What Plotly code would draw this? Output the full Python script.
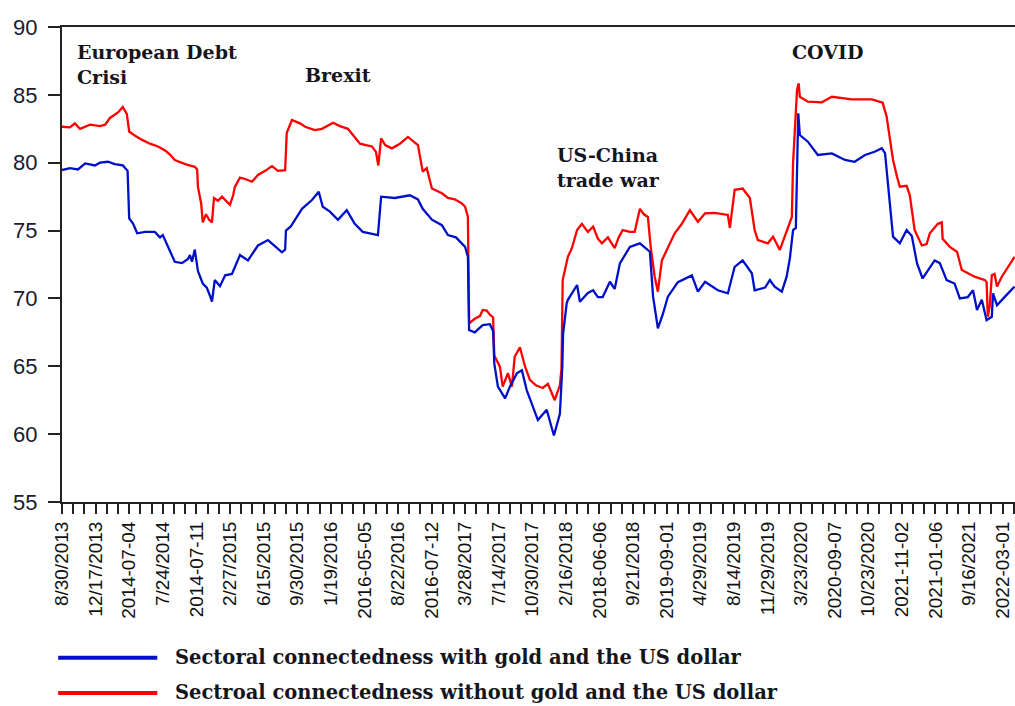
import plotly.graph_objects as go

# Observation index (trading days from 8/30/2013) and index readings
obs_red = [0, 20, 32, 45, 70, 95, 108, 120, 140, 152, 162, 168, 182, 199, 220, 240, 258, 270, 282, 308,
           332, 338, 340, 348, 352, 360, 368, 375, 380, 390, 400, 410, 420, 428, 432, 445, 458, 475, 490, 508,
           525, 540, 558, 562, 575, 595, 608, 632, 650, 678, 695, 715, 732, 745, 760, 775, 785, 791, 798, 808,
           825, 845, 865, 878, 890, 902, 912, 925, 950, 965, 982, 1000, 1008, 1015, 1018, 1032, 1045, 1052, 1062, 1070,
           1078, 1081, 1095, 1102, 1115, 1125, 1132, 1145, 1158, 1170, 1185, 1202, 1215, 1232, 1245, 1249, 1252, 1265, 1275, 1288,
           1300, 1315, 1328, 1340, 1350, 1365, 1382, 1392, 1402, 1420, 1432, 1445, 1455, 1465, 1472, 1482, 1490, 1500, 1515, 1532,
           1550, 1570, 1590, 1608, 1632, 1650, 1665, 1670, 1682, 1702, 1720, 1732, 1740, 1765, 1778, 1795, 1812, 1825, 1828, 1838,
           1842, 1845, 1865, 1900, 1925, 1975, 2025, 2052, 2062, 2070, 2078, 2088, 2095, 2112, 2120, 2132, 2150, 2162, 2170, 2190,
           2200, 2202, 2220, 2238, 2250, 2282, 2308, 2312, 2315, 2320, 2325, 2332, 2338, 2350, 2365, 2382]
without_gold_usd = [82.65, 82.6, 82.9, 82.5, 82.8, 82.7, 82.8, 83.3, 83.7, 84.1, 83.6, 82.3, 82.0, 81.7, 81.4, 81.2, 80.9, 80.6, 80.2, 79.9,
                    79.7, 79.5, 78.2, 77.0, 75.6, 76.2, 75.8, 75.6, 77.4, 77.2, 77.5, 77.2, 76.9, 77.6, 78.2, 78.9, 78.8, 78.6, 79.1, 79.4,
                    79.75, 79.4, 79.45, 82.2, 83.15, 82.9, 82.65, 82.4, 82.5, 82.95, 82.7, 82.5, 81.9, 81.4, 81.3, 81.2, 80.8, 79.8, 81.8, 81.3,
                    81.06, 81.4, 81.9, 81.6, 81.3, 79.34, 79.6, 78.1, 77.75, 77.4, 77.3, 77.0, 76.75, 76.0, 68.16, 68.5, 68.7, 69.15, 69.1, 68.8,
                    68.6, 65.8, 64.97, 63.5, 64.5, 63.5, 65.7, 66.4, 64.97, 64.0, 63.6, 63.4, 63.7, 62.5, 63.6, 64.85, 71.35, 73.07, 73.7, 75.04,
                    75.5, 74.9, 75.3, 74.4, 74.06, 74.5, 73.7, 74.5, 75.04, 74.9, 74.9, 76.6, 76.2, 76.0, 73.8, 71.6, 70.5, 72.8, 73.8, 74.8,
                    75.5, 76.5, 75.65, 76.27, 76.3, 76.2, 76.15, 75.2, 78.0, 78.1, 77.4, 75.04, 74.3, 74.06, 74.55, 73.57, 75.04, 76.0, 79.95, 85.36,
                    85.85, 84.86, 84.5, 84.45, 84.86, 84.67, 84.67, 84.42, 83.4, 81.9, 80.2, 78.97, 78.23, 78.3, 77.6, 75.04, 73.9, 74.0, 74.8, 75.5,
                    75.6, 74.4, 73.8, 73.44, 72.1, 71.6, 71.35, 71.2, 68.65, 69.5, 71.7, 71.8, 70.87, 71.6, 72.33, 73.07]

obs_blue = [0, 20, 40, 58, 82, 95, 115, 132, 152, 164, 168, 178, 188, 208, 232, 245, 252, 265, 282, 300,
            315, 320, 325, 332, 340, 352, 362, 370, 375, 382, 395, 408, 425, 445, 465, 490, 515, 538, 550, 558,
            560, 572, 582, 600, 625, 642, 652, 670, 690, 712, 732, 752, 770, 790, 798, 832, 870, 890, 902, 925,
            950, 965, 985, 1008, 1015, 1018, 1032, 1052, 1070, 1078, 1081, 1090, 1108, 1120, 1138, 1150, 1162, 1175, 1190, 1212,
            1230, 1245, 1251, 1253, 1262, 1265, 1275, 1288, 1295, 1315, 1328, 1340, 1352, 1370, 1382, 1395, 1420, 1445, 1470, 1478,
            1490, 1502, 1515, 1540, 1575, 1590, 1608, 1640, 1665, 1682, 1702, 1725, 1732, 1758, 1770, 1782, 1800, 1812, 1820, 1828,
            1835, 1838, 1841, 1845, 1865, 1890, 1925, 1958, 1982, 2008, 2032, 2050, 2058, 2070, 2078, 2095, 2112, 2125, 2138, 2152,
            2170, 2182, 2195, 2212, 2232, 2245, 2265, 2278, 2288, 2300, 2312, 2325, 2328, 2338, 2358, 2382]
with_gold_usd = [79.46, 79.6, 79.5, 79.95, 79.8, 80.0, 80.07, 79.9, 79.8, 79.4, 75.9, 75.5, 74.8, 74.9, 74.9, 74.5, 74.67, 73.8, 72.7, 72.6,
                 72.9, 73.2, 72.7, 73.6, 72.0, 71.1, 70.8, 70.2, 69.76, 71.35, 70.9, 71.7, 71.8, 73.2, 72.8, 73.9, 74.3, 73.7, 73.4, 73.6,
                 75.0, 75.3, 75.8, 76.6, 77.25, 77.86, 76.76, 76.4, 75.8, 76.5, 75.5, 74.9, 74.8, 74.67, 77.5, 77.4, 77.6, 77.3, 76.6, 75.8,
                 75.4, 74.67, 74.5, 73.8, 73.07, 67.67, 67.5, 68.04, 68.1, 67.6, 65.2, 63.5, 62.64, 63.5, 64.5, 64.7, 63.25, 62.27, 61.04, 61.8,
                 59.9, 61.5, 64.97, 67.4, 69.64, 69.9, 70.37, 70.99, 69.76, 70.4, 70.6, 70.1, 70.1, 71.23, 70.7, 72.58, 73.8, 74.06, 73.44, 70.13,
                 67.8, 68.8, 70.13, 71.2, 71.7, 70.5, 71.23, 70.6, 70.37, 72.33, 72.8, 71.85, 70.6, 70.8, 71.35, 70.87, 70.5, 71.6, 72.95, 75.04,
                 75.2, 80.7, 83.64, 82.04, 81.55, 80.57, 80.69, 80.2, 80.07, 80.57, 80.81, 81.06, 80.7, 77.0, 74.55, 74.06, 75.04, 74.6, 72.58, 71.47,
                 72.33, 72.8, 72.6, 71.35, 71.1, 70.0, 70.1, 70.6, 69.15, 69.9, 68.4, 68.65, 70.37, 69.5, 70.13, 70.87]

# Date labels printed under the axis, one every three ticks
tick_labels = ["8/30/2013", "12/17/2013", "2014-07-04", "7/24/2014", "2014-07-11", "2/27/2015",
               "6/15/2015", "9/30/2015", "1/19/2016", "2016-05-05", "8/22/2016", "2016-07-12",
               "3/28/2017", "7/14/2017", "10/30/2017", "2/16/2018", "2018-06-06", "9/21/2018",
               "2019-09-01", "4/29/2019", "8/14/2019", "11/29/2019", "3/23/2020", "2020-09-07",
               "10/23/2020", "2021-11-02", "2021-01-06", "9/16/2021", "2022-03-01"]
label_step = 84
tick_positions = [i * label_step for i in range(len(tick_labels))]

# Event annotations: (text, observation, level, vertical anchor)
events = [("European Debt<br>Crisi", 32, 89.1, "top"),
          ("Brexit", 602, 86.45, "middle"),
          ("US-China<br>trade war", 1232, 81.5, "top"),
          ("COVID", 1820, 88.15, "middle")]

series_names = ["Sectoral connectedness with gold and the US dollar",
                "Sectroal connectedness without gold and the US dollar"]
blue = "#0010C8"
red = "#FF0000"
ink = "#151520"
serif = "DejaVu Serif"
sans = "Liberation Sans"

fig = go.Figure()
fig.add_trace(go.Scatter(x=obs_red, y=without_gold_usd, mode="lines", name=series_names[1],
                         line=dict(color=red, width=2.3), showlegend=False))
fig.add_trace(go.Scatter(x=obs_blue, y=with_gold_usd, mode="lines", name=series_names[0],
                         line=dict(color=blue, width=2.3), showlegend=False))

for text, xo, yv, anchor in events:
    fig.add_annotation(x=xo, y=yv, xref="x", yref="y", text=f"<b>{text}</b>", showarrow=False,
                       xanchor="left", yanchor=anchor, align="left",
                       font=dict(family=serif, size=19, color=ink))

# Legend drawn below the date labels with long colour swatches
legend_rows = [(series_names[0], blue, -0.328), (series_names[1], red, -0.402)]
for text, colour, yp in legend_rows:
    fig.add_shape(type="line", xref="paper", yref="paper", x0=-0.004, x1=0.1, y0=yp, y1=yp,
                  line=dict(color=colour, width=4))
    fig.add_annotation(x=0.116, y=yp, xref="paper", yref="paper", text=f"<b>{text}</b>",
                       showarrow=False, xanchor="left", yanchor="middle",
                       font=dict(family=serif, size=19.5, color=ink))

fig.update_layout(
    width=1015, height=706,
    margin=dict(l=62, r=0, t=27, b=204),
    paper_bgcolor="white", plot_bgcolor="white",
    showlegend=False,
)
fig.update_xaxes(
    range=[0, 2383], showgrid=False, zeroline=False,
    showline=True, linecolor="#222", linewidth=2, mirror=True,
    tickmode="array", tickvals=tick_positions, ticktext=tick_labels,
    tickangle=-90, ticks="outside", ticklen=10, tickwidth=1.5, tickcolor="#222",
    tickfont=dict(family=sans, size=19, color="#111"),
    minor=dict(ticks="outside", dtick=label_step / 3, tick0=0, ticklen=10, tickwidth=1.5,
               tickcolor="#222", showgrid=False),
)
fig.update_yaxes(
    range=[55, 90], dtick=5, tick0=55, showgrid=False, zeroline=False,
    showline=True, linecolor="#222", linewidth=2,
    ticks="outside", ticklen=12, tickwidth=1.5, tickcolor="#222",
    ticklabelstandoff=6,
    tickfont=dict(family=sans, size=22, color="#1a1a30"),
)

fig.write_html("out.html")
